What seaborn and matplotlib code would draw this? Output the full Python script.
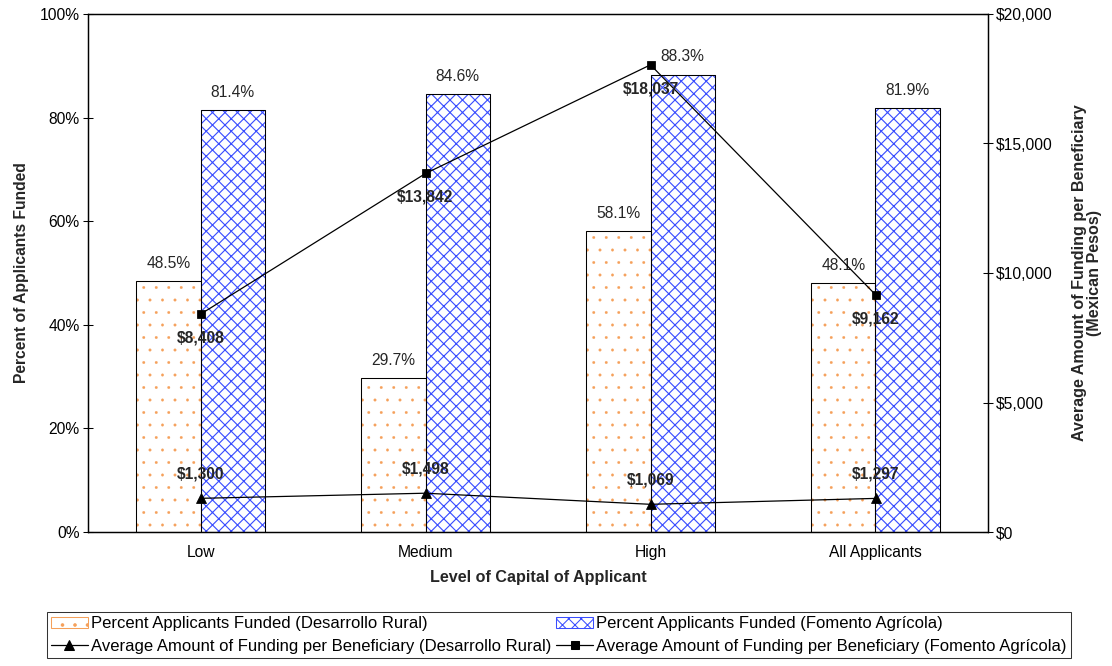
import numpy as np
import pandas as pd
import seaborn as sns
import matplotlib.pyplot as plt
from matplotlib.patches import Patch, Rectangle
from matplotlib.lines import Line2D
from matplotlib.ticker import PercentFormatter, FuncFormatter, MultipleLocator

sns.set_theme(style="white")
plt.rcParams["font.family"] = ["Liberation Sans", "DejaVu Sans"]
plt.rcParams["hatch.linewidth"] = 1.0

# -----------------------------
# data
# -----------------------------
categories = ["Low", "Medium", "High", "All Applicants"]
programs = ["Desarrollo Rural", "Fomento Agrícola"]
pct_rural = [48.5, 29.7, 58.1, 48.1]
pct_fomento = [81.4, 84.6, 88.3, 81.9]
amt_rural = [1300, 1498, 1069, 1297]
amt_fomento = [8408, 13842, 18037, 9162]

bars = pd.DataFrame({
    "level": categories * 2,
    "program": [programs[0]] * len(categories) + [programs[1]] * len(categories),
    "pct": pct_rural + pct_fomento,
})

HATCH_COLORS = {"Desarrollo Rural": "#f5a05a", "Fomento Agrícola": "#3a4dff"}
HATCHES = {"Desarrollo Rural": ".", "Fomento Agrícola": "xx"}
HATCH_LW = {"Desarrollo Rural": 0.3, "Fomento Agrícola": 1.1}
FS = 15

DPI = 75
fig = plt.figure(figsize=(1112 / DPI, 666 / DPI), dpi=DPI)
ax = fig.add_axes([88 / 1112, 1 - 532 / 666, 900 / 1112, 518 / 666])

sns.barplot(data=bars, x="level", y="pct", hue="program", order=categories,
            hue_order=programs, palette=["white", "white"], width=0.57, gap=0,
            edgecolor="black", linewidth=1, legend=False, ax=ax)

# hatch colour follows edgecolor, so colour the hatch then lay a black outline on top
patches = list(ax.patches)
for k, p in enumerate(patches):
    prog = programs[k // len(categories)]
    p.set_hatch(HATCHES[prog])
    p.set_edgecolor(HATCH_COLORS[prog])
    if hasattr(p, "set_hatch_linewidth"):
        p.set_hatch_linewidth(HATCH_LW[prog])
    ax.add_patch(Rectangle(p.get_xy(), p.get_width(), p.get_height(),
                           fill=False, edgecolor="black", linewidth=1, zorder=3))
    ax.annotate(f"{p.get_height():.1f}%", (p.get_x() + p.get_width() / 2, p.get_height()),
                xytext=(0, 17), textcoords="offset points", ha="center", va="center",
                fontsize=FS)

ax.set_ylim(0, 100)
ax.yaxis.set_major_locator(MultipleLocator(20))
ax.yaxis.set_major_formatter(PercentFormatter(decimals=0))
ax.set_xlabel("Level of Capital of Applicant", fontsize=FS + 0.5, fontweight="bold", labelpad=10)
ax.set_ylabel("Percent of Applicants Funded", fontsize=FS, fontweight="bold", labelpad=10)

# -----------------------------
# lines on the right axis
# -----------------------------
ax2 = ax.twinx()
pos = np.arange(len(categories))
sns.lineplot(x=pos, y=amt_rural, marker="^", markersize=9, color="black",
             markeredgecolor="black", linewidth=1.2, ax=ax2)
sns.lineplot(x=pos, y=amt_fomento, marker="s", markersize=8, color="black",
             markeredgecolor="black", linewidth=1.2, ax=ax2)
for x, v in zip(pos, amt_rural):
    ax2.annotate(f"${v:,}", (x, v), xytext=(0, 23), textcoords="offset points",
                 ha="center", va="center", fontsize=FS, fontweight="bold")
for x, v in zip(pos, amt_fomento):
    ax2.annotate(f"${v:,}", (x, v), xytext=(0, -23), textcoords="offset points",
                 ha="center", va="center", fontsize=FS, fontweight="bold")

ax2.set_ylim(0, 20000)
ax2.yaxis.set_major_locator(MultipleLocator(5000))
ax2.yaxis.set_major_formatter(FuncFormatter(lambda v, _: f"${v:,.0f}"))
ax2.set_ylabel("Average Amount of Funding per Beneficiary\n(Mexican Pesos)",
               fontsize=FS + 0.5, fontweight="bold", labelpad=18, linespacing=1.0)
ax.set_xlim(-0.5, len(categories) - 0.5)

for a in (ax, ax2):
    for s in a.spines.values():
        s.set_color("black")
        s.set_linewidth(1.2)
    a.tick_params(axis="y", direction="inout", length=9, width=1, color="black",
                  labelsize=FS, labelcolor="black", left=(a is ax), right=(a is ax2))
    a.grid(False)
ax.tick_params(axis="x", length=0, labelsize=FS, labelcolor="black", pad=12)

# -----------------------------
# legend
# -----------------------------
handles = [
    Patch(facecolor="white", edgecolor=HATCH_COLORS[programs[0]], hatch=".",
          label="Percent Applicants Funded (Desarrollo Rural)"),
    Line2D([], [], color="black", marker="^", markersize=9, linewidth=1.2,
           label="Average Amount of Funding per Beneficiary (Desarrollo Rural)"),
    Patch(facecolor="white", edgecolor=HATCH_COLORS[programs[1]], hatch="xx",
          label="Percent Applicants Funded (Fomento Agrícola)"),
    Line2D([], [], color="black", marker="s", markersize=8, linewidth=1.2,
           label="Average Amount of Funding per Beneficiary (Fomento Agrícola)"),
]
leg = fig.legend(handles=handles, ncol=2, loc="center", bbox_to_anchor=(559 / 1112, 1 - 635 / 666),
                 fontsize=FS + 1, frameon=True, fancybox=False, edgecolor="black",
                 handlelength=2.2, handletextpad=0.2, columnspacing=0.3,
                 borderpad=0.25, labelspacing=0.45)
leg.get_frame().set_linewidth(1)
for t in leg.get_texts():
    t.set_color("black")

fig.savefig("out.png", dpi=DPI)
